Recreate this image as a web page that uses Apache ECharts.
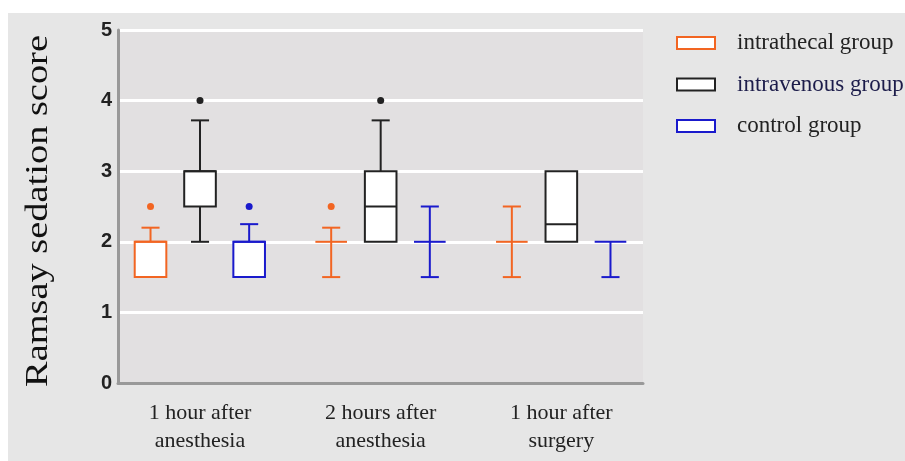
<!DOCTYPE html>
<html>
<head>
<meta charset="utf-8">
<script src="https://cdn.jsdelivr.net/npm/echarts@6/dist/echarts.min.js"></script>
<style>
html,body{margin:0;padding:0;background:#fff;}
#chart{width:905px;height:461px;}
</style>
</head>
<body>
<div id="chart"></div>
<script>
// ---- data ----
const categories = ['1 hour after\nanesthesia', '2 hours after\nanesthesia', '1 hour after\nsurgery'];
const groupNames = ['intrathecal group', 'intravenous group', 'control group'];
const yTitle = 'Ramsay sedation score';
const yTicks = [0, 1, 2, 3, 4, 5];
// [min, Q1, median, Q3, max] per category
const intrathecalStats = [[1.5, 1.5, 2, 2, 2.2], [1.5, 2, 2, 2, 2.2], [1.5, 2, 2, 2, 2.5]];
const intravenousStats = [[2, 2.5, 3, 3, 3.72], [2, 2, 2.5, 3, 3.72], [2, 2, 2.25, 3, 3]];
const controlStats     = [[1.5, 1.5, 2, 2, 2.25], [1.5, 2, 2, 2, 2.5], [1.5, 2, 2, 2, 2]];
const intrathecalOutliers = [2.5, 2.5, null];
const intravenousOutliers = [4, 4, null];
const controlOutliers     = [2.5, null, null];

const colors = ['#f26522', '#222222', '#1a1acc'];
const offsets = [-0.274, 0, 0.272];

function buildData(stats, outliers) {
  return stats.map((s, i) => [i, s[0], s[1], s[2], s[3], s[4], outliers[i] == null ? NaN : outliers[i]]);
}
const allStats = [intrathecalStats, intravenousStats, controlStats];
const allOut = [intrathecalOutliers, intravenousOutliers, controlOutliers];

function makeRender(si) {
  return function (params, api) {
    const c = api.value(0);
    const ppu = api.size([1, 0])[0];
    const x = api.coord([c, 0])[0] + offsets[si] * ppu;
    const bw = 0.175 * ppu, cw = 0.1 * ppu;
    const Y = v => api.coord([c, v])[1];
    const mn = api.value(1), q1 = api.value(2), md = api.value(3), q3 = api.value(4), mx = api.value(5), ol = api.value(6);
    const col = colors[si];
    const ls = {stroke: col, lineWidth: 2, fill: null};
    const ch = [];
    if (mx > q3) {
      ch.push({type: 'line', shape: {x1: x, y1: Y(q3), x2: x, y2: Y(mx)}, style: ls});
      ch.push({type: 'line', shape: {x1: x - cw / 2, y1: Y(mx), x2: x + cw / 2, y2: Y(mx)}, style: ls});
    }
    if (mn < q1) {
      ch.push({type: 'line', shape: {x1: x, y1: Y(q1), x2: x, y2: Y(mn)}, style: ls});
      ch.push({type: 'line', shape: {x1: x - cw / 2, y1: Y(mn), x2: x + cw / 2, y2: Y(mn)}, style: ls});
    }
    if (q3 > q1) {
      ch.push({type: 'rect', shape: {x: x - bw / 2, y: Y(q3), width: bw, height: Y(q1) - Y(q3)},
        style: {fill: '#ffffff', stroke: col, lineWidth: 2}});
    }
    ch.push({type: 'line', shape: {x1: x - bw / 2, y1: Y(md), x2: x + bw / 2, y2: Y(md)}, style: ls});
    if (isFinite(ol)) {
      ch.push({type: 'circle', shape: {cx: x, cy: Y(ol), r: 3.5}, style: {fill: col}});
    }
    return {type: 'group', children: ch};
  };
}

const chart = echarts.init(document.getElementById('chart'), null, {renderer: 'canvas'});
const option = {
  animation: false,
  backgroundColor: '#ffffff',
  graphic: [{
    type: 'rect', z: -10, silent: true,
    shape: {x: 8, y: 13, width: 897, height: 448},
    style: {fill: '#e6e6e6'}
  }, {
    type: 'text', z: 10, silent: true,
    x: 39, y: 211, rotation: Math.PI / 2, scaleX: 1.2,
    style: {text: yTitle, fontFamily: 'Liberation Serif', fontSize: 32, fill: '#111',
      align: 'center', verticalAlign: 'middle'}
  }],
  grid: {left: 118, right: 262, top: 30, bottom: 78, show: true, backgroundColor: '#e2e0e1', borderWidth: 0},
  legend: {
    orient: 'vertical', left: 671, top: 26.5, itemWidth: 38, itemHeight: 12, itemGap: 18.5,
    textStyle: {fontFamily: 'Liberation Serif', fontSize: 23, color: '#222', padding: [0, 0, 0, 17], lineHeight: 22},
    data: groupNames.map((n, i) => ({
      name: n, icon: 'rect',
      itemStyle: {color: '#ffffff', borderColor: colors[i], borderWidth: 2},
      textStyle: {color: i === 1 ? '#1c1c4a' : '#222'}
    }))
  },
  xAxis: {
    type: 'value', min: -0.454, max: 2.452,
    axisLine: {show: true, lineStyle: {color: '#999', width: 3}},
    axisTick: {show: false},
    splitLine: {show: false},
    axisLabel: {
      customValues: [0, 1, 2],
      formatter: v => categories[Math.round(v)],
      fontFamily: 'Liberation Serif', fontSize: 22, color: '#222', lineHeight: 28, margin: 16
    }
  },
  yAxis: {
    type: 'value', min: 0, max: 5, interval: 1,
    axisLine: {show: true, onZero: false, lineStyle: {color: '#999', width: 3}},
    axisTick: {show: false},
    splitLine: {show: true, lineStyle: {color: '#ffffff', width: 3}},
    axisLabel: {
      customValues: yTicks,
      fontFamily: 'Liberation Sans', fontWeight: 'bold', fontSize: 20, color: '#222', margin: 6
    }
  },
  series: groupNames.map((n, i) => ({
    name: n, type: 'custom', clip: false,
    itemStyle: {color: '#ffffff', borderColor: colors[i], borderWidth: 2},
    renderItem: makeRender(i),
    encode: {x: 0, y: [1, 2, 3, 4, 5]},
    data: buildData(allStats[i], allOut[i])
  }))
};
chart.setOption(option);
</script>
</body>
</html>
